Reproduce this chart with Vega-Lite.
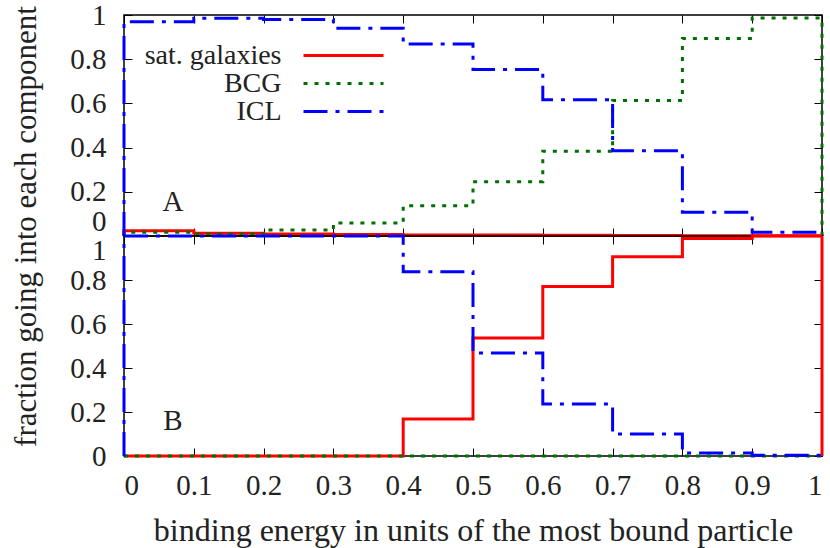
{
  "$schema": "https://vega.github.io/schema/vega-lite/v6.json",
  "background": "white",
  "padding": {"left": 9, "top": 0, "right": 9, "bottom": 5},
  "bounds": "flush",
  "spacing": 0,
  "config": {
    "font": "'Liberation Serif', serif",
    "view": {"stroke": "black", "strokeWidth": 1.5},
    "axis": {
      "domain": false, "grid": false, "tickColor": "black", "tickWidth": 1, "tickSize": -8,
      "labelFont": "'Liberation Serif', serif", "labelFontSize": 29, "labelColor": "#222",
      "titleFont": "'Liberation Serif', serif", "titleFontSize": 32, "titleFontWeight": "normal", "titleColor": "#222"
    }
  },
  "datasets": {
    "steps": [
      {"p":"A","s":"sat. galaxies","i":0,"x":0,"y":0},
      {"p":"A","s":"sat. galaxies","i":1,"x":0,"y":0.024},
      {"p":"A","s":"sat. galaxies","i":2,"x":0.1,"y":0.012},
      {"p":"A","s":"sat. galaxies","i":3,"x":0.2,"y":0.009},
      {"p":"A","s":"sat. galaxies","i":4,"x":0.3,"y":0.007},
      {"p":"A","s":"sat. galaxies","i":5,"x":0.4,"y":0.005},
      {"p":"A","s":"sat. galaxies","i":6,"x":0.5,"y":0.004},
      {"p":"A","s":"sat. galaxies","i":7,"x":0.6,"y":0.003},
      {"p":"A","s":"sat. galaxies","i":8,"x":0.7,"y":0.002},
      {"p":"A","s":"sat. galaxies","i":9,"x":0.8,"y":0.001},
      {"p":"A","s":"sat. galaxies","i":10,"x":0.9,"y":0.001},
      {"p":"A","s":"sat. galaxies","i":11,"x":1,"y":0.001},
      {"p":"A","s":"sat. galaxies","i":12,"x":1,"y":0},
      {"p":"A","s":"BCG","i":0,"x":0,"y":0},
      {"p":"A","s":"BCG","i":1,"x":0,"y":0.017},
      {"p":"A","s":"BCG","i":2,"x":0.1,"y":0.009},
      {"p":"A","s":"BCG","i":3,"x":0.2,"y":0.027},
      {"p":"A","s":"BCG","i":4,"x":0.3,"y":0.059},
      {"p":"A","s":"BCG","i":5,"x":0.4,"y":0.137},
      {"p":"A","s":"BCG","i":6,"x":0.5,"y":0.246},
      {"p":"A","s":"BCG","i":7,"x":0.6,"y":0.383},
      {"p":"A","s":"BCG","i":8,"x":0.7,"y":0.613},
      {"p":"A","s":"BCG","i":9,"x":0.8,"y":0.894},
      {"p":"A","s":"BCG","i":10,"x":0.9,"y":0.986},
      {"p":"A","s":"BCG","i":11,"x":1,"y":0.986},
      {"p":"A","s":"BCG","i":12,"x":1,"y":0},
      {"p":"A","s":"ICL","i":0,"x":0,"y":0},
      {"p":"A","s":"ICL","i":1,"x":0,"y":0.969},
      {"p":"A","s":"ICL","i":2,"x":0.1,"y":0.985},
      {"p":"A","s":"ICL","i":3,"x":0.2,"y":0.98},
      {"p":"A","s":"ICL","i":4,"x":0.3,"y":0.94},
      {"p":"A","s":"ICL","i":5,"x":0.4,"y":0.869},
      {"p":"A","s":"ICL","i":6,"x":0.5,"y":0.753},
      {"p":"A","s":"ICL","i":7,"x":0.6,"y":0.617},
      {"p":"A","s":"ICL","i":8,"x":0.7,"y":0.386},
      {"p":"A","s":"ICL","i":9,"x":0.8,"y":0.107},
      {"p":"A","s":"ICL","i":10,"x":0.9,"y":0.017},
      {"p":"A","s":"ICL","i":11,"x":1,"y":0.017},
      {"p":"A","s":"ICL","i":12,"x":1,"y":0},
      {"p":"B","s":"sat. galaxies","i":0,"x":0,"y":0},
      {"p":"B","s":"sat. galaxies","i":1,"x":0,"y":0},
      {"p":"B","s":"sat. galaxies","i":2,"x":0.1,"y":0},
      {"p":"B","s":"sat. galaxies","i":3,"x":0.2,"y":0},
      {"p":"B","s":"sat. galaxies","i":4,"x":0.3,"y":0},
      {"p":"B","s":"sat. galaxies","i":5,"x":0.4,"y":0.168},
      {"p":"B","s":"sat. galaxies","i":6,"x":0.5,"y":0.536},
      {"p":"B","s":"sat. galaxies","i":7,"x":0.6,"y":0.771},
      {"p":"B","s":"sat. galaxies","i":8,"x":0.7,"y":0.906},
      {"p":"B","s":"sat. galaxies","i":9,"x":0.8,"y":0.989},
      {"p":"B","s":"sat. galaxies","i":10,"x":0.9,"y":1.0},
      {"p":"B","s":"sat. galaxies","i":11,"x":1,"y":1.0},
      {"p":"B","s":"sat. galaxies","i":12,"x":1,"y":0},
      {"p":"B","s":"BCG","i":0,"x":0,"y":0},
      {"p":"B","s":"BCG","i":1,"x":0,"y":0},
      {"p":"B","s":"BCG","i":2,"x":0.1,"y":0},
      {"p":"B","s":"BCG","i":3,"x":0.2,"y":0},
      {"p":"B","s":"BCG","i":4,"x":0.3,"y":0},
      {"p":"B","s":"BCG","i":5,"x":0.4,"y":0},
      {"p":"B","s":"BCG","i":6,"x":0.5,"y":0},
      {"p":"B","s":"BCG","i":7,"x":0.6,"y":0},
      {"p":"B","s":"BCG","i":8,"x":0.7,"y":0},
      {"p":"B","s":"BCG","i":9,"x":0.8,"y":0},
      {"p":"B","s":"BCG","i":10,"x":0.9,"y":0},
      {"p":"B","s":"BCG","i":11,"x":1,"y":0},
      {"p":"B","s":"BCG","i":12,"x":1,"y":0},
      {"p":"B","s":"ICL","i":0,"x":0,"y":0},
      {"p":"B","s":"ICL","i":1,"x":0,"y":1.0},
      {"p":"B","s":"ICL","i":2,"x":0.1,"y":1.0},
      {"p":"B","s":"ICL","i":3,"x":0.2,"y":1.0},
      {"p":"B","s":"ICL","i":4,"x":0.3,"y":1.0},
      {"p":"B","s":"ICL","i":5,"x":0.4,"y":0.838},
      {"p":"B","s":"ICL","i":6,"x":0.5,"y":0.468},
      {"p":"B","s":"ICL","i":7,"x":0.6,"y":0.236},
      {"p":"B","s":"ICL","i":8,"x":0.7,"y":0.1},
      {"p":"B","s":"ICL","i":9,"x":0.8,"y":0.014},
      {"p":"B","s":"ICL","i":10,"x":0.9,"y":0.003},
      {"p":"B","s":"ICL","i":11,"x":1,"y":0.003},
      {"p":"B","s":"ICL","i":12,"x":1,"y":0}
    ],
    "labels": [
      {"p":"A","t":"A","x":0.07,"y":0.155},
      {"p":"B","t":"B","x":0.07,"y":0.16}
    ]
  },
  "resolve": {"scale": {"color": "independent", "strokeDash": "independent"}},
  "vconcat": [
    {
      "width": 698, "height": 221,
      "layer": [
        {
          "data": {"name": "steps"},
          "transform": [{"filter": "datum.p == 'A'"}],
          "mark": {"type": "line", "interpolate": "step-after", "strokeWidth": 3},
          "encoding": {
            "x": {"field": "x", "type": "quantitative", "scale": {"domain": [0, 1], "nice": false, "zero": false},
                  "axis": {"orient": "bottom", "labels": false, "title": null, "values": [0,0.1,0.2,0.3,0.4,0.5,0.6,0.7,0.8,0.9,1]}},
            "y": {"field": "y", "type": "quantitative", "scale": {"domain": [0, 1], "nice": false},
                  "axis": {"orient": "left", "title": null, "values": [0,0.2,0.4,0.6,0.8,1], "format": "~g", "labelPadding": 26,
                           "labelBaseline": {"condition": {"test": "datum.value == 0", "value": "bottom"}, "value": "middle"}}},
            "color": {"field": "s", "type": "nominal",
                      "scale": {"domain": ["sat. galaxies", "BCG", "ICL"], "range": ["#ff0000", "#007000", "#0000ff"]},
                      "legend": {"orient": "none", "legendX": 205.5, "legendY": 26.5, "title": null, "symbolType": "M-10,0H10", "symbolSize": 64, "symbolStrokeWidth": 3, "labelAlign": "right", "labelOffset": -76, "labelFontSize": 28, "labelFont": "'Liberation Serif', serif", "labelColor": "#222", "rowPadding": 0, "padding": 0, "labelLimit": 0}},
            "strokeDash": {"field": "s", "type": "nominal",
                      "scale": {"domain": ["sat. galaxies", "BCG", "ICL"], "range": [[1, 0], [4, 7], [24, 8, 4, 8]]},
                      "legend": {"orient": "none", "legendX": 205.5, "legendY": 26.5, "title": null, "symbolType": "M-10,0H10", "symbolSize": 64, "symbolStrokeWidth": 3, "labelAlign": "right", "labelOffset": -76, "labelFontSize": 28, "labelFont": "'Liberation Serif', serif", "labelColor": "#222", "rowPadding": 0, "padding": 0, "labelLimit": 0}},
            "order": {"field": "i", "type": "quantitative"}
          }
        },
        {
          "data": {"name": "labels"},
          "transform": [{"filter": "datum.p == 'A'"}],
          "mark": {"type": "text", "fontSize": 29, "color": "#222", "align": "center", "baseline": "middle", "font": "'Liberation Serif', serif"},
          "encoding": {
            "x": {"field": "x", "type": "quantitative", "scale": {"domain": [0, 1], "nice": false, "zero": false},
                  "axis": {"orient": "top", "labels": false, "title": null, "values": [0,0.1,0.2,0.3,0.4,0.5,0.6,0.7,0.8,0.9,1]}},
            "y": {"field": "y", "type": "quantitative", "scale": {"domain": [0, 1], "nice": false},
                  "axis": {"orient": "right", "labels": false, "title": null, "values": [0,0.2,0.4,0.6,0.8,1]}},
            "text": {"field": "t"}
          }
        }
      ],
      "resolve": {"axis": {"x": "independent", "y": "independent"}}
    },
    {
      "width": 698, "height": 220,
      "layer": [
        {
          "data": {"name": "steps"},
          "transform": [{"filter": "datum.p == 'B'"}],
          "mark": {"type": "line", "interpolate": "step-after", "strokeWidth": 3},
          "encoding": {
            "x": {"field": "x", "type": "quantitative", "scale": {"domain": [0, 1], "nice": false, "zero": false},
                  "axis": {"orient": "bottom", "title": "binding energy in units of the most bound particle", "values": [0,0.1,0.2,0.3,0.4,0.5,0.6,0.7,0.8,0.9,1], "format": "~g", "labelPadding": 23, "titlePadding": 15}},
            "y": {"field": "y", "type": "quantitative", "scale": {"domain": [0, 1], "nice": false},
                  "axis": {"orient": "left", "title": "fraction going into each component", "titleFontSize": 31, "titleY": -10, "titlePadding": 27, "values": [0,0.2,0.4,0.6,0.8,1], "format": "~g", "labelPadding": 26,
                           "labelBaseline": {"condition": {"test": "datum.value == 1", "value": "top"}, "value": "middle"}}},
            "color": {"field": "s", "type": "nominal",
                      "scale": {"domain": ["sat. galaxies", "BCG", "ICL"], "range": ["#ff0000", "#007000", "#0000ff"]}, "legend": null},
            "strokeDash": {"field": "s", "type": "nominal",
                      "scale": {"domain": ["sat. galaxies", "BCG", "ICL"], "range": [[1, 0], [4, 7], [24, 8, 4, 8]]}, "legend": null},
            "order": {"field": "i", "type": "quantitative"}
          }
        },
        {
          "data": {"name": "labels"},
          "transform": [{"filter": "datum.p == 'B'"}],
          "mark": {"type": "text", "fontSize": 29, "color": "#222", "align": "center", "baseline": "middle", "font": "'Liberation Serif', serif"},
          "encoding": {
            "x": {"field": "x", "type": "quantitative", "scale": {"domain": [0, 1], "nice": false, "zero": false},
                  "axis": {"orient": "top", "labels": false, "title": null, "values": [0,0.1,0.2,0.3,0.4,0.5,0.6,0.7,0.8,0.9,1]}},
            "y": {"field": "y", "type": "quantitative", "scale": {"domain": [0, 1], "nice": false},
                  "axis": {"orient": "right", "labels": false, "title": null, "values": [0,0.2,0.4,0.6,0.8,1]}},
            "text": {"field": "t"}
          }
        }
      ],
      "resolve": {"axis": {"x": "independent", "y": "independent"}}
    }
  ]
}
